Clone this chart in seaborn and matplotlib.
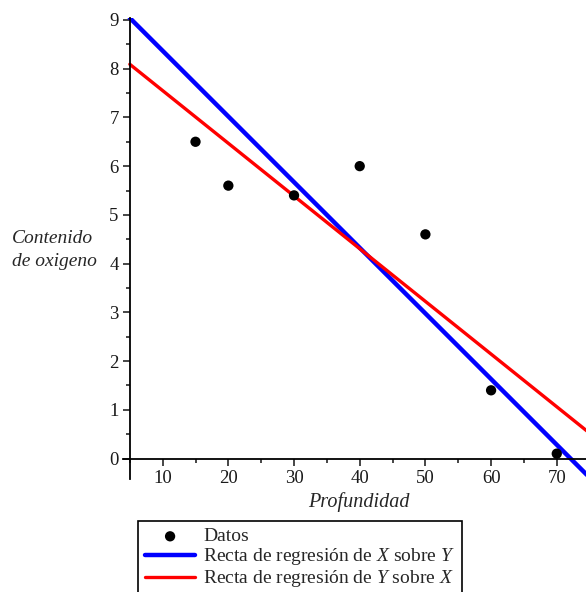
import numpy as np
import pandas as pd
import matplotlib
matplotlib.use('Agg')
import matplotlib.pyplot as plt
import seaborn as sns
from matplotlib.ticker import MultipleLocator

profundidad = [15, 20, 30, 40, 50, 60, 70]
oxigeno = [6.5, 5.6, 5.4, 6.0, 4.6, 1.4, 0.1]
x_linea = [5, 75]
etiquetas = ['Datos',
             'Recta de regresión de $X$ sobre $Y$',
             'Recta de regresión de $Y$ sobre $X$']

df = pd.DataFrame({'x': profundidad, 'y': oxigeno})

# rectas de regresion
b_yx, a_yx = np.polyfit(df['x'], df['y'], 1)
b_xy, a_xy = np.polyfit(df['y'], df['x'], 1)
xl = np.array(x_linea, dtype=float)
rectas = pd.DataFrame({
    'x': np.concatenate([xl, xl]),
    'y': np.concatenate([(xl - a_xy) / b_xy, a_yx + b_yx * xl]),
    'recta': [etiquetas[1]] * 2 + [etiquetas[2]] * 2,
})

sns.set_style('ticks')
plt.rcParams['font.family'] = ['Liberation Serif', 'DejaVu Serif']
plt.rcParams['mathtext.fontset'] = 'custom'
plt.rcParams['mathtext.rm'] = 'Liberation Serif'
plt.rcParams['mathtext.it'] = 'Liberation Serif:italic'

fig = plt.figure(figsize=(5.86, 5.92), dpi=100)
ax = fig.add_axes([122.6 / 586, 1 - 479 / 592, 1 - 122.6 / 586, 461 / 592])

sns.lineplot(data=rectas[rectas['recta'] == etiquetas[1]], x='x', y='y',
             color='#0000ff', lw=3.2, ax=ax, label=etiquetas[1])
sns.lineplot(data=rectas[rectas['recta'] == etiquetas[2]], x='x', y='y',
             color='#ff0000', lw=2.4, ax=ax, label=etiquetas[2])
sns.scatterplot(data=df, x='x', y='y', color='black', s=55, edgecolor='none',
                ax=ax, label=etiquetas[0], zorder=3)

ax.set_xlim(3.9, 74.45)
ax.set_ylim(-0.42, 9.04)
ax.spines['left'].set_position(('data', 5))
ax.spines['bottom'].set_position(('data', 0))
ax.spines['top'].set_visible(False)
ax.spines['right'].set_visible(False)
for s in ['left', 'bottom']:
    ax.spines[s].set_linewidth(1.3)
    ax.spines[s].set_color('black')

ax.set_xticks([10, 20, 30, 40, 50, 60, 70])
ax.set_yticks(range(0, 10))
ax.xaxis.set_minor_locator(MultipleLocator(5))
ax.yaxis.set_minor_locator(MultipleLocator(0.5))
ax.tick_params(which='major', length=5, width=1.2, labelsize=13.5,
               labelcolor='#1a1a1a', pad=3)
ax.tick_params(which='minor', length=3, width=1.2)

ax.set_xlabel('Profundidad', fontstyle='italic', fontsize=14.5, va='center')
ax.xaxis.set_label_coords(0.51, -0.05)
ax.set_ylabel('Contenido\nde oxigeno', fontstyle='italic', fontsize=14,
              rotation=0, ha='left', va='center', multialignment='left',
              linespacing=1.5)
ax.yaxis.set_label_coords(-0.2387, 0.497)

h, l = ax.get_legend_handles_labels()
orden = [l.index(e) for e in etiquetas]
ax.legend_.remove()
leg = fig.legend([h[i] for i in orden], [l[i] for i in orden],
                 loc='upper left', bbox_to_anchor=(138 / 586, 1 - 521 / 592),
                 fontsize=14, frameon=True, fancybox=False, edgecolor='black',
                 framealpha=1, handlelength=2.6, handletextpad=0.4,
                 labelspacing=0.05, borderpad=0.35, borderaxespad=0)
leg.get_frame().set_linewidth(1.2)

fig.savefig('out.png', dpi=100)
